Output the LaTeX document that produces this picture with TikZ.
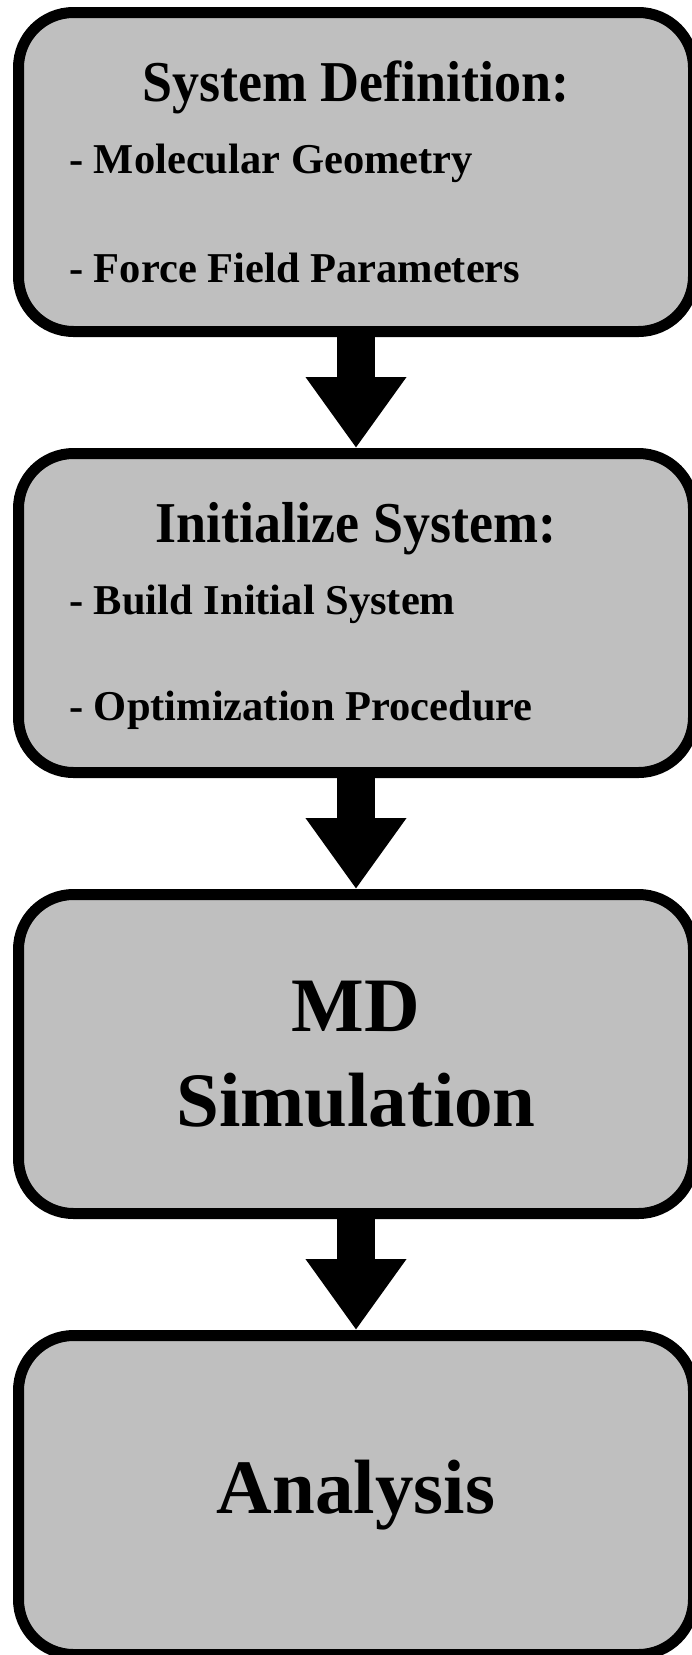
\documentclass[tikz,border=0pt]{standalone}
\usepackage{fontspec}
\setmainfont{Liberation Serif}
\usetikzlibrary{arrows.meta,positioning}

\begin{document}
\begin{tikzpicture}[x=1pt,y=1pt,>={Triangle[width=96pt,length=71pt]},
  node distance=111pt,
  stage/.style={draw, line width=11pt, fill=black!25, rounded corners=55pt,
    minimum width=675pt, minimum height=319pt, align=center,
    font=\bfseries\fontsize{77}{95}\selectfont},
  heading/.style={inner sep=0pt, anchor=base, font=\bfseries\fontsize{54}{60}\selectfont},
  item/.style={inner sep=0pt, anchor=base west, font=\bfseries\fontsize{42.5}{50}\selectfont},
  flow/.style={->, line width=38pt}]
  \useasboundingbox (0,0) rectangle (692,-1655);

  % the four stages
  \node[stage] (def) at (356,-172) {};
  \node[stage, below=of def] (init) {};
  \node[stage, below=of init] (md) {MD\\Simulation};
  \node[stage, below=of md] (ana) {Analysis};

  % texts of the first two stages
  \node[heading] (def-title) at ([yshift=-94pt]def.north) {\scalebox{1}[1.07]{System Definition:}};
  \node[item] (def-geo) at ([xshift=56pt,yshift=-166pt]def.north west) {- Molecular Geometry};
  \node[item] (def-ff) at ([xshift=56pt,yshift=-275pt]def.north west) {- Force Field Parameters};
  \node[heading] (init-title) at ([yshift=-94pt]init.north) {\scalebox{1}[1.07]{Initialize System:}};
  \node[item] (init-build) at ([xshift=56pt,yshift=-166pt]init.north west) {- Build Initial System};
  \node[item] (init-opt) at ([xshift=56pt,yshift=-272pt]init.north west) {- Optimization Procedure};

  % arrows
  \draw[flow] (def) -- (init);
  \draw[flow] (init) -- (md);
  \draw[flow] (md) -- (ana);
\end{tikzpicture}
\end{document}
